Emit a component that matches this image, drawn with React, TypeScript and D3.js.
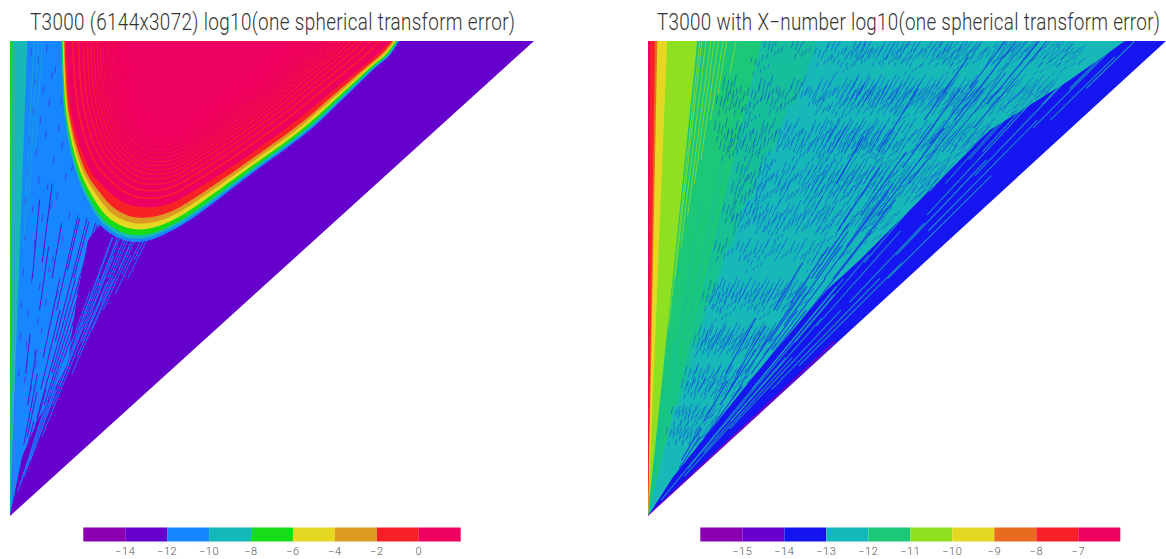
import React from "react";
import * as d3 from "d3";

// ---------- shared domain: m (order) and n (degree) of the spectral triangle
const TRUNCATION = 3000;

// ---------- titles and colour bars
const leftTitle = "T3000 (6144x3072) log10(one spherical transform error)";
const rightTitle = "T3000 with X\u2212number log10(one spherical transform error)";
const leftThresholds = [-14, -12, -10, -8, -6, -4, -2, 0];
const leftColors = ["#8a00b0", "#6600cc", "#1487ff", "#14b8b8", "#18dc18", "#e4d822", "#dc9a20", "#f82028", "#ee0060"];
const rightThresholds = [-15, -14, -13, -12, -11, -10, -9, -8, -7];
const rightColors = ["#8a00b0", "#6a00cc", "#1414f0", "#14b8b8", "#1ac878", "#90e020", "#e4d822", "#e86c20", "#f82028", "#ee0060"];

// ---------- left panel: error levels
const outerM = [292, 309, 366, 429, 515, 618, 704, 802, 945, 1048, 1374, 1718, 1918, 2090, 2176, 2227];
const outerN = [3000, 2526, 2185, 1996, 1838, 1756, 1731, 1743, 1813, 1882, 2154, 2438, 2646, 2830, 2912, 3000];
const innerM = [321, 355, 458, 544, 618, 687, 744, 830, 927, 1002, 1300, 1643, 1832, 2015, 2118, 2176];
const innerN = [3000, 2526, 2185, 2072, 2002, 1964, 1952, 1952, 1977, 2021, 2230, 2501, 2672, 2836, 2931, 3000];
const bandFractions = [0, 0.1, 0.2, 0.36, 0.53, 0.7, 1];
const bandLevels = [-11, -9, -7, -5, -3, -1, 1];
const contourScales = [0.945, 0.9, 0.862, 0.83, 0.8, 0.775, 0.75, 0.725, 0.7, 0.675, 0.65, 0.625, 0.6, 0.575, 0.55, 0.525, 0.5];
const contourCentre = [1030, 3000];
const leftBlueEdgeM = [0, 69, 160, 332, 384, 447, 515];
const leftBlueEdgeN = [0, 373, 606, 966, 1383, 1743, 1838];
const leftWedgeRatios = [0.033, 0.005];
const leftWedgeLevels = [-9, -7];
const leftRayRatio = [0.046, 0.054, 0.062];
const leftRayLevel = [-9, -9, -9];
const leftRayFrom = [1700, 1900, 2300];
const leftRayTo = [3000, 3000, 3000];
// purple rays cutting into the blue fan, blue rays cutting into the purple
const purpleRatio = [0.31, 0.295, 0.28, 0.265, 0.25, 0.235, 0.22, 0.205, 0.19, 0.175, 0.16, 0.145, 0.13, 0.115, 0.1, 0.085, 0.325, 0.34, 0.355, 0.272, 0.243, 0.212, 0.258, 0.3, 0.228, 0.197];
const purpleFrom = [300, 500, 700, 900, 620, 1100, 800, 1300, 1000, 450, 1500, 700, 1300, 1600, 900, 1500, 1050, 1200, 1420, 1400, 1500, 1550, 350, 1200, 250, 500];
const purpleTo = [1790, 1800, 1830, 1850, 1500, 1880, 1300, 1900, 1500, 900, 1850, 1050, 1700, 2100, 1150, 2000, 1770, 1760, 1760, 1840, 1860, 1880, 800, 1550, 600, 780];
const blueRatio = [0.335, 0.35, 0.365, 0.38, 0.395, 0.41, 0.43, 0.45, 0.318, 0.372, 0.402, 0.42, 0.44, 0.342, 0.358, 0.375, 0.388, 0.328, 0.312, 0.3, 0.29, 0.348, 0.362, 0.382, 0.4, 0.332, 0.322, 0.352];
const blueFrom = [350, 700, 500, 1200, 900, 1300, 1400, 1500, 620, 1500, 1550, 1520, 1620, 980, 1180, 1100, 1350, 250, 300, 200, 150, 820, 1300, 1000, 1180, 1120, 1000, 1450];
const blueTo = [1760, 1755, 1300, 1740, 1500, 1735, 1740, 1745, 1000, 1745, 1735, 1650, 1745, 1500, 1750, 1480, 1750, 800, 1000, 720, 800, 1180, 1640, 1380, 1720, 1760, 1420, 1740];
const leftSpeckM = [120, 160, 210, 260, 145, 190, 240, 295, 135, 175, 225, 280, 330, 110, 150, 205, 250, 300, 355, 100, 165, 215, 270, 320, 90, 130, 185, 235, 290, 340, 85, 140, 195, 245, 300, 75, 125, 170, 225, 270, 65, 105, 160, 205, 60, 95, 140, 180, 50, 85, 120, 150];
const leftSpeckN = [2930, 2880, 2950, 2820, 2740, 2690, 2780, 2620, 2560, 2500, 2610, 2450, 2530, 2380, 2300, 2410, 2250, 2340, 2200, 2180, 2120, 2080, 2020, 2140, 1990, 1940, 1880, 1960, 1810, 1900, 1760, 1720, 1680, 1620, 1750, 1540, 1490, 1450, 1560, 1400, 1330, 1280, 1230, 1350, 1130, 1080, 1030, 1170, 900, 860, 800, 960];

// ---------- right panel: error levels
const rightWedgeRatios = [0.22, 0.095, 0.037, 0.018, 0.0135, 0.004];
const rightWedgeLevels = [-11.5, -10.5, -9.5, -8.5, -7.5, -6.5];
const rightBlueEdgeM = [0, 145, 608, 1036, 1227, 1575, 1980, 2443, 2762, 3000];
const rightBlueEdgeN = [0, 246, 878, 1427, 1617, 1996, 2438, 2754, 3000, 3000];
// long rays across the green / teal parts
const limeRatio = [0.1, 0.104, 0.112, 0.121, 0.128, 0.136, 0.145, 0.152, 0.17];
const limeFrom = [1200, 1500, 1700, 1900, 2100, 2250, 2500, 2650, 2800];
const limeTo = [3000, 3000, 3000, 3000, 3000, 3000, 3000, 3000, 3000];
const greenRatio = [0.23, 0.245, 0.26, 0.275, 0.29, 0.305, 0.32];
const greenFrom = [700, 1100, 1400, 1700, 2000, 2300, 2600];
const greenTo = [3000, 3000, 3000, 3000, 3000, 3000, 3000];
const tealRatio = [0.165, 0.18, 0.19, 0.14, 0.155, 0.2, 0.125, 0.11];
const tealFrom = [500, 300, 1100, 200, 900, 600, 100, 100];
const tealTo = [1500, 1000, 2400, 1100, 2000, 2800, 800, 900];
const rightBlueRayRatio = [0.71, 0.7, 0.69, 0.68, 0.67, 0.655, 0.64, 0.625, 0.61, 0.595, 0.58, 0.56, 0.54, 0.52, 0.5, 0.72, 0.705, 0.66, 0.63, 0.6, 0.57, 0.55, 0.715, 0.695, 0.675, 0.65, 0.635, 0.615, 0.685, 0.665, 0.645, 0.72, 0.74, 0.755, 0.77, 0.73];
const rightBlueRayFrom = [2500, 1900, 2700, 1500, 2200, 1200, 2500, 900, 1800, 700, 2300, 1300, 600, 2100, 900, 1100, 800, 500, 1500, 300, 900, 350, 1500, 2350, 1700, 1900, 1100, 1350, 1050, 900, 1500, 2100, 2300, 2600, 2450, 2750];
const rightBlueRayTo = [3000, 2450, 3000, 2050, 2700, 1700, 2900, 1350, 2200, 1050, 2700, 1600, 850, 2400, 1250, 1800, 1300, 820, 1850, 500, 1200, 560, 2000, 2750, 2100, 2300, 1450, 1700, 1500, 1300, 1800, 2700, 2800, 3000, 3000, 3000];
const cyanRatio = [0.73, 0.745, 0.76, 0.775, 0.79, 0.805, 0.82, 0.835, 0.85, 0.865, 0.88, 0.895, 0.91, 0.925, 0.94, 0.752, 0.782, 0.812, 0.842, 0.872, 0.902, 0.768, 0.798, 0.828, 0.858, 0.755, 0.77, 0.86, 0.92, 0.738, 0.786, 0.815, 0.848, 0.878, 0.905, 0.932, 0.826, 0.796];
const cyanFrom = [2400, 1700, 2500, 1100, 2300, 400, 2100, 250, 1900, 1350, 2150, 800, 2450, 1500, 2700, 800, 1600, 1200, 2300, 1650, 1800, 2650, 600, 2700, 2650, 100, 300, 550, 950, 2150, 2650, 2500, 2550, 2600, 2700, 2500, 2250, 2050];
const cyanTo = [3000, 2300, 3000, 1650, 3000, 1250, 3000, 1000, 2700, 1850, 3000, 1500, 3000, 2150, 3000, 1450, 2150, 1800, 3000, 2250, 2500, 3000, 1000, 3000, 3000, 1500, 1400, 1300, 1600, 3000, 3000, 3000, 3000, 3000, 3000, 2900, 2650, 2500];
const speckRowN = [2956, 2905, 2850, 2703, 2653, 2602, 2540, 2438, 2375, 2312, 2250, 2173, 2110, 2046, 1960, 1920, 1857, 1780, 1680, 1600, 1427, 1364, 1290, 1143, 1080, 890, 808, 638, 512];
const speckRowHalf = [30, 24, 18, 40, 28, 32, 18, 32, 42, 28, 18, 36, 28, 40, 18, 30, 38, 18, 30, 18, 36, 28, 18, 34, 36, 28, 30, 24, 22];
const speckRowM = [
  [720, 880, 1090, 1240, 1270, 1410, 1490, 1555, 1680, 1745, 1830, 1910, 2060, 2140, 2230, 2360, 2440],
  [1010, 1180, 1225, 1330, 1385, 1460, 1620, 1700, 1785, 1875, 1990, 2100, 2190, 2305, 2410, 2490],
  [640, 1120, 1520, 1760, 2020, 2270, 2380],
  [480, 690, 880, 1040, 1180, 1240, 1310, 1395, 1475, 1560, 1665, 1750, 1860, 1990, 2130, 2240, 2330],
  [620, 800, 960, 1120, 1210, 1275, 1350, 1430, 1530, 1620, 1710, 1805, 1925, 2075, 2200, 2295],
  [440, 530, 735, 1005, 1160, 1245, 1325, 1400, 1465, 1580, 1685, 1790, 1890, 2020, 2150],
  [590, 1090, 1450, 1810, 2105],
  [430, 555, 705, 840, 1000, 1075, 1140, 1215, 1290, 1360, 1510, 1640, 1740, 1860, 1960],
  [500, 640, 780, 920, 1040, 1105, 1180, 1250, 1325, 1420, 1575, 1690, 1805, 1915, 2030],
  [460, 590, 870, 985, 1070, 1150, 1230, 1300, 1385, 1470, 1610, 1770, 1880, 1985],
  [680, 1030, 1340, 1660],
  [560, 690, 830, 960, 1040, 1130, 1210, 1290, 1380, 1500, 1620, 1700, 1790],
  [620, 760, 900, 1000, 1095, 1170, 1255, 1340, 1450, 1570, 1660, 1745],
  [530, 655, 795, 940, 1025, 1110, 1195, 1305, 1410, 1530, 1620],
  [600, 980, 1350],
  [480, 610, 730, 850, 960, 1060, 1170, 1290, 1390],
  [530, 660, 780, 890, 1010, 1130, 1240, 1340],
  [720, 1030, 1290],
  [430, 560, 670, 770, 880, 990, 1110],
  [600, 950],
  [400, 480, 560, 650, 730, 810, 890],
  [360, 450, 530, 610, 700, 780, 860],
  [420, 640, 800],
  [340, 410, 480, 560, 630, 700],
  [310, 380, 450, 520, 600, 670],
  [260, 320, 390, 450, 520, 570],
  [240, 300, 360, 420, 480, 530],
  [180, 220, 260, 310, 360, 400],
  [150, 190, 230, 270, 320],
];
const speckOffsetM = [0, 34, -18, 12, -41, 57, 24, -29];
const speckOffsetN = [0, -22, 14, -40, 30, -8, 46, -54];

const leftColour = d3.scaleThreshold<number, string>().domain(leftThresholds).range(leftColors);
const rightColour = d3.scaleThreshold<number, string>().domain(rightThresholds).range(rightColors);

type Pt = [number, number];
const toPts = (ms: number[], ns: number[]): Pt[] => ms.map((m, i) => [m, ns[i]]);

function Bar({ lo, hi, x0, x1, colour, thresholds }: any) {
  const x = d3.scaleLinear().domain([lo, hi]).range([x0, x1]);
  const edges = [lo, ...thresholds, hi];
  return (
    <g>
      {edges.slice(0, -1).map((e: number, i: number) => (
        <rect key={e} x={x(e)} y={527.5} width={x(edges[i + 1]) - x(e)} height={14} fill={colour(e + 0.01)} />
      ))}
      {thresholds.map((t: number) => (
        <text key={t} x={x(t)} y={554.5} textAnchor="middle" fontSize={11} fill="#555"
          fontFamily="Roboto, 'Liberation Sans', sans-serif" fontWeight={300} letterSpacing={0.6}>
          {t < 0 ? `\u2212${Math.abs(t)}` : t}
        </text>
      ))}
    </g>
  );
}

const TITLE_SQUEEZE = 0.82;
function Title({ x, len, text }: any) {
  return (
    <text transform={`translate(${x},30) scale(${TITLE_SQUEEZE},1)`} fontSize={23} fill="#333"
      textLength={len / TITLE_SQUEEZE} lengthAdjust="spacing"
      fontFamily="Roboto, 'Liberation Sans', sans-serif" fontWeight={300}>
      {text}
    </text>
  );
}

function LeftPanel() {
  const x = d3.scaleLinear().domain([0, TRUNCATION]).range([10, 534]);
  const y = d3.scaleLinear().domain([0, TRUNCATION]).range([516, 41]);
  const poly = d3.line<Pt>().x((d) => x(d[0])).y((d) => y(d[1]));
  const smooth = d3.line<Pt>().x((d) => x(d[0])).y((d) => y(d[1])).curve(d3.curveCatmullRom.alpha(0.5));
  const wedge = (r: number) => poly([[0, 0], [r * TRUNCATION, TRUNCATION], [0, TRUNCATION]])! + "Z";
  const ray = (r: number, a: number, b: number) => poly([[r * a, a], [r * b, b]])!;
  const outer = toPts(outerM, outerN);
  const inner = toPts(innerM, innerN);
  const band = (f: number): Pt[] => outer.map((o, i) => [o[0] + (inner[i][0] - o[0]) * f, o[1] + (inner[i][1] - o[1]) * f]);
  const blue = [...toPts(leftBlueEdgeM, leftBlueEdgeN), ...outer.slice(0, 5).reverse(), [0, TRUNCATION] as Pt];
  return (
    <g clipPath="url(#triL)" filter="url(#soft)">
      <rect x={10} y={41} width={524} height={475} fill={leftColour(-13)} />
      <path d={poly(blue)! + "Z"} fill={leftColour(-11)} />
      {purpleRatio.map((r, i) => (
        <path key={i} d={ray(r, purpleFrom[i], purpleTo[i])} stroke={leftColour(-13)} strokeWidth={1} opacity={0.9} />
      ))}
      {blueRatio.map((r, i) => (
        <path key={i} d={ray(r, blueFrom[i], blueTo[i])} stroke={leftColour(-11)} strokeWidth={1} opacity={0.85} />
      ))}
      {leftSpeckM.map((m, i) => {
        const r = m / leftSpeckN[i];
        return <path key={i} d={ray(r, leftSpeckN[i] - 22, leftSpeckN[i] + 22)} stroke={leftColour(-13)} strokeWidth={1} opacity={0.5} />;
      })}
      {leftWedgeRatios.map((r, i) => <path key={i} d={wedge(r)} fill={leftColour(leftWedgeLevels[i])} />)}
      {leftRayRatio.map((r, i) => (
        <path key={i} d={ray(r, leftRayFrom[i], leftRayTo[i])} stroke={leftColour(leftRayLevel[i])} strokeWidth={1} opacity={0.5} />
      ))}
      {bandFractions.map((f, i) => (
        <path key={f} d={smooth(band(f))! + "Z"} fill={leftColour(bandLevels[i])} />
      ))}
      {contourScales.map((s) => (
        <path key={s} fill="none" stroke={leftColour(-1)}
          strokeWidth={0.5 + (s - 0.5) * 3} opacity={0.2 + (s - 0.5) * 1.6}
          d={smooth(inner.map((p) => [contourCentre[0] + (p[0] - contourCentre[0]) * s, contourCentre[1] + (p[1] - contourCentre[1]) * s] as Pt))!} />
      ))}
    </g>
  );
}

function RightPanel() {
  const x = d3.scaleLinear().domain([0, TRUNCATION]).range([648, 1166]);
  const y = d3.scaleLinear().domain([0, TRUNCATION]).range([516, 41]);
  const poly = d3.line<Pt>().x((d) => x(d[0])).y((d) => y(d[1]));
  const wedge = (r: number) => poly([[0, 0], [r * TRUNCATION, TRUNCATION], [0, TRUNCATION]])! + "Z";
  const ray = (r: number, a: number, b: number) => poly([[r * a, a], [r * b, b]])!;
  const blueEdge = toPts(rightBlueEdgeM, rightBlueEdgeN);
  return (
    <g clipPath="url(#triR)" filter="url(#soft)">
      <rect x={648} y={41} width={518} height={475} fill={rightColour(-12.5)} />
      {greenRatio.map((r, i) => (
        <path key={i} d={ray(r, greenFrom[i], greenTo[i])} stroke={rightColour(-11.5)} strokeWidth={7} opacity={0.45} />
      ))}
      {rightWedgeRatios.map((r, i) => <path key={i} d={wedge(r)} fill={rightColour(rightWedgeLevels[i])} />)}
      {limeRatio.map((r, i) => (
        <path key={i} d={ray(r, limeFrom[i], limeTo[i])} stroke={rightColour(-10.5)} strokeWidth={1} opacity={0.8} />
      ))}
      {tealRatio.map((r, i) => (
        <path key={i} d={ray(r, tealFrom[i], tealTo[i])} stroke={rightColour(-12.5)} strokeWidth={1.4} opacity={0.35} />
      ))}
      {speckRowM.map((row, j) =>
        row.flatMap((m, i) =>
          speckOffsetM.map((dm, k) => {
            const n = speckRowN[j] + speckOffsetN[k];
            const h = speckRowHalf[j] * (k % 2 ? 0.6 : 1);
            return <path key={`${j}-${i}-${k}`} d={ray((m + dm) / n, n - h, n + h)} stroke={rightColour(-13.5)} strokeWidth={1} opacity={0.38} />;
          })
        )
      )}
      {rightBlueRayRatio.map((r, i) => (
        <path key={i} d={ray(r, rightBlueRayFrom[i], rightBlueRayTo[i])} stroke={rightColour(-13.5)} strokeWidth={1.2} opacity={0.65} />
      ))}
      <path d={poly([...blueEdge, [TRUNCATION, 0]])! + "Z"} fill={rightColour(-13.5)} />
      {cyanRatio.map((r, i) => (
        <path key={i} d={ray(r, cyanFrom[i], cyanTo[i])} stroke={rightColour(-12.5)} strokeWidth={1.1} opacity={0.7} />
      ))}
      <path d={ray(0.985, 0, 1100)} stroke={rightColour(-15.5)} strokeWidth={2} opacity={0.8} />
    </g>
  );
}

export default function App() {
  const lx = d3.scaleLinear().domain([0, TRUNCATION]).range([10, 534]);
  const rx = d3.scaleLinear().domain([0, TRUNCATION]).range([648, 1166]);
  const yy = d3.scaleLinear().domain([0, TRUNCATION]).range([516, 41]);
  const tri = (sx: any) => `M${sx(0)},${yy(0)}L${sx(0)},${yy(TRUNCATION)}L${sx(TRUNCATION)},${yy(TRUNCATION)}Z`;
  return (
    <svg width={1166} height={559} style={{ position: "absolute", left: 0, top: 0, display: "block", background: "#fff" }}>
      <defs>
        <clipPath id="triL"><path d={tri(lx)} /></clipPath>
        <clipPath id="triR"><path d={tri(rx)} /></clipPath>
        <filter id="soft" x="-2%" y="-2%" width="104%" height="104%">
          <feGaussianBlur stdDeviation={0.45} />
        </filter>
      </defs>
      <Title x={30} len={485} text={leftTitle} />
      <Title x={657} len={503} text={rightTitle} />
      <LeftPanel />
      <RightPanel />
      <Bar lo={-16} hi={2} x0={83.3} x1={460.7} colour={leftColour} thresholds={leftThresholds} />
      <Bar lo={-16} hi={-6} x0={700.3} x1={1120.3} colour={rightColour} thresholds={rightThresholds} />
    </svg>
  );
}
